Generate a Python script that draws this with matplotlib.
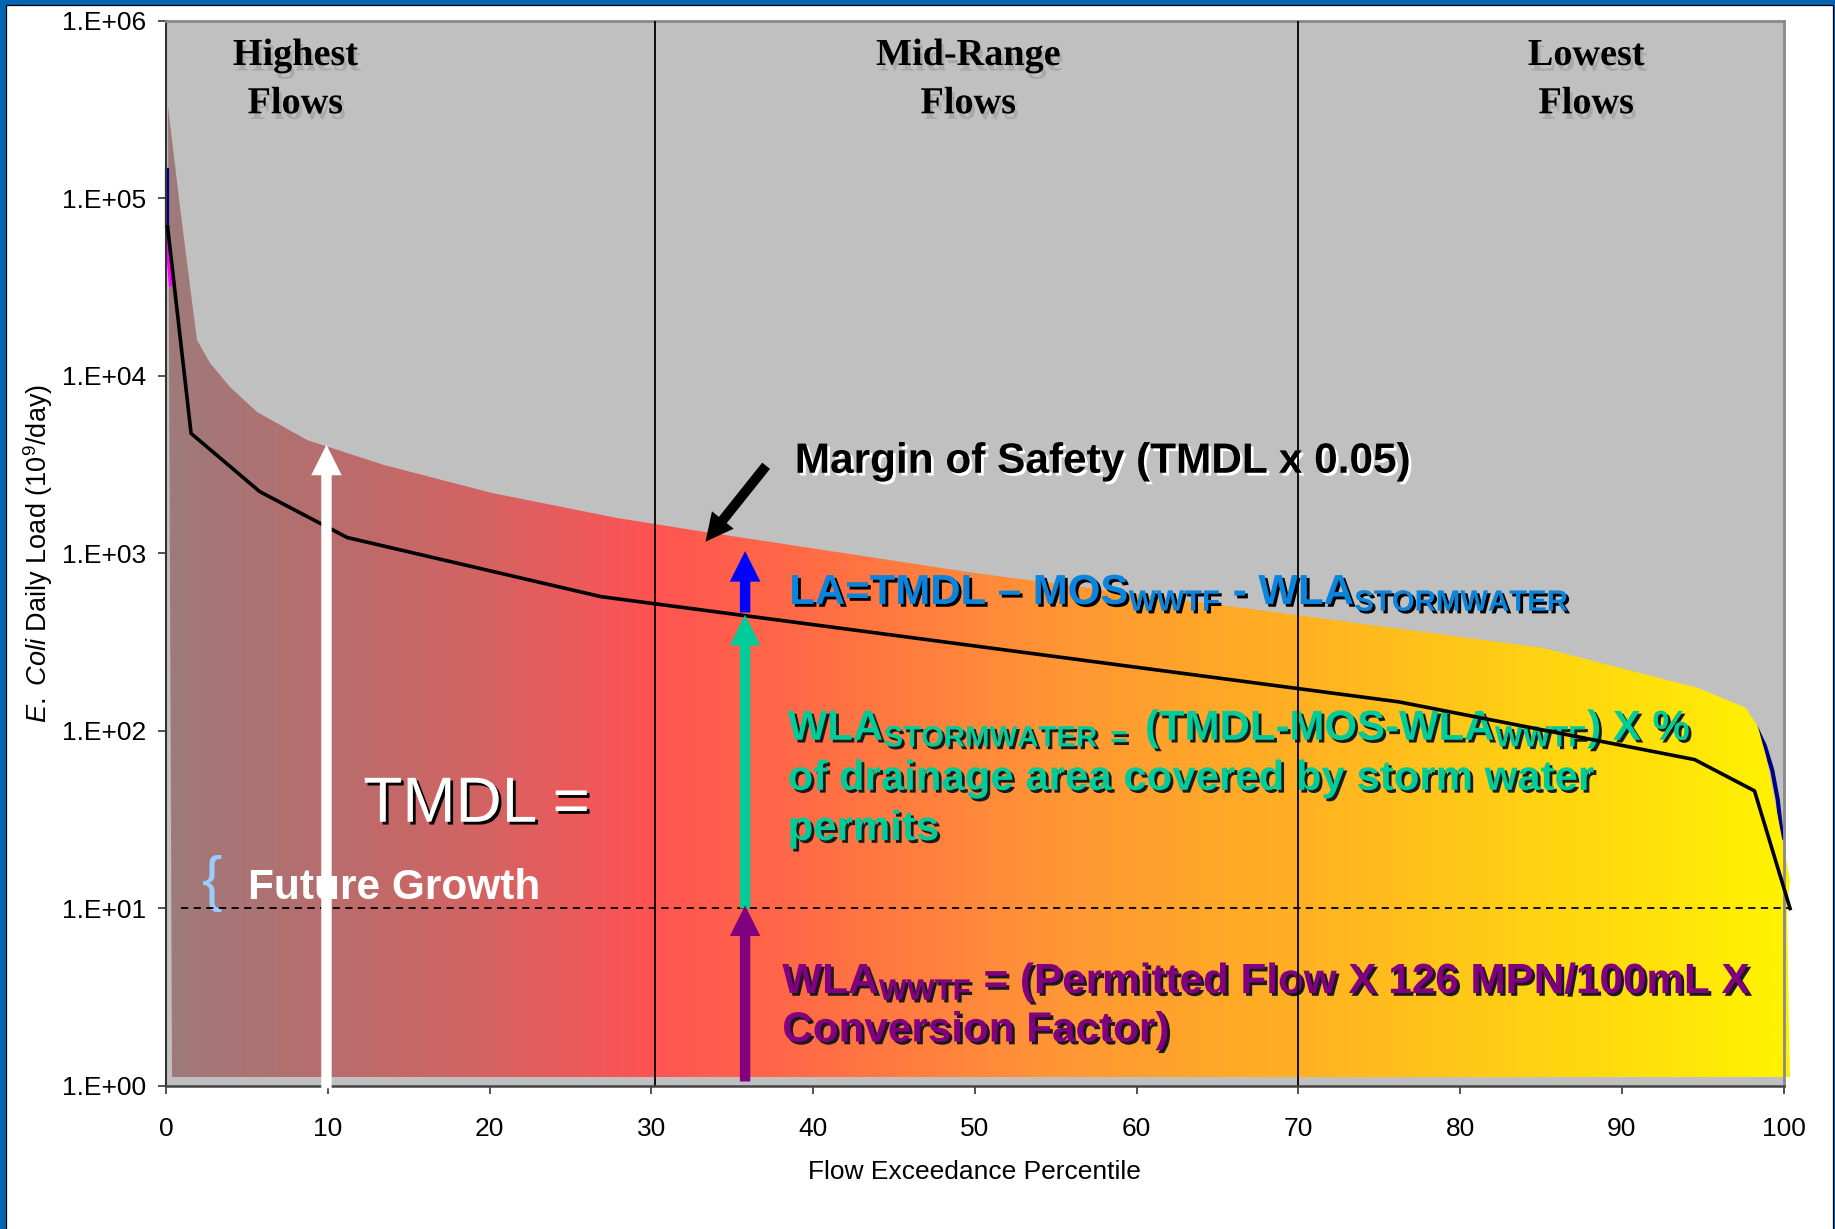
import numpy as np
import matplotlib
matplotlib.use('Agg')
import matplotlib.pyplot as plt
import matplotlib.patheffects as pe
from matplotlib.colors import LinearSegmentedColormap
from matplotlib.patches import Polygon, Rectangle
from matplotlib.ticker import NullLocator

plt.rcParams['font.family'] = ['Liberation Sans', 'DejaVu Sans']
plt.rcParams['mathtext.fontset'] = 'custom'
plt.rcParams['mathtext.rm'] = 'Liberation Sans'
plt.rcParams['mathtext.it'] = 'Liberation Sans:italic'
plt.rcParams['mathtext.bf'] = 'Liberation Sans:bold'
plt.rcParams['mathtext.default'] = 'regular'

# top of the coloured load-duration area (percentile, load)
env_pct = [0.1, 0.87, 1.48, 1.9, 2.72, 3.96, 5.6, 8.7, 13.5, 20.15, 27.9, 33.3,
           50, 67.6, 85.1, 94.7, 97.7, 98.4, 98.9, 99.88, 100.4, 100.2, 100.4, 0.35]
env_load = [3.3e5, 9.0e4, 3.2e4, 1.6e4, 1.18e4, 8700, 6300, 4350, 3160, 2180, 1580, 1320,
            776, 481, 292, 174, 134, 106, 72, 25, 14.5, 9.8, 1.13, 1.13]

# TMDL curve
tmdl_pct = [0.1, 1.55, 5.8, 11.2, 26.9, 76.2, 94.5, 98.2, 100.4]
tmdl_load = [6.9e4, 4750, 2230, 1230, 571, 146, 69, 46, 10]

# small extra series at the edges
navy_pct = [98.34, 98.85, 99.3, 99.64, 99.9]
navy_load = [103, 82, 60, 41, 25]
left_navy_pct = [0.05, 0.05]
left_navy_load = [1.45e5, 6.9e4]
left_mag_pct = [0.05, 0.3]
left_mag_load = [6.2e4, 3.3e4]

regime_bounds = [30.2, 70]
future_growth = 10

regime_x = [8.0, 49.6, 87.8]
regime_top = ['Highest', 'Mid-Range', 'Lowest']
regime_bottom = ['Flows', 'Flows', 'Flows']

xticks = list(range(0, 101, 10))
yticks = [1e0, 1e1, 1e2, 1e3, 1e4, 1e5, 1e6]
ytick_labels = ['1.E+00', '1.E+01', '1.E+02', '1.E+03', '1.E+04', '1.E+05', '1.E+06']

grad_pos = [0.0, 0.1, 0.2, 0.3, 0.4, 0.55, 0.7, 0.85, 1.0]
grad_cols = ['#9E7A7A', '#B86C6C', '#D56262', '#FF5252', '#FF6C45', '#FF9535',
             '#FFB022', '#FFD212', '#FFF200']


def shadow(col, dx=2, dy=-2):
    return [pe.withSimplePatchShadow(offset=(dx, dy), shadow_rgbFace=col, alpha=1.0)]


fig = plt.figure(figsize=(18.35, 12.29), dpi=100, facecolor='#0066B3')
fig.add_artist(Rectangle((5.5 / 1835, -0.01), (1833 - 5.5) / 1835, 1.01 - 5 / 1229,
                         transform=fig.transFigure, fc='white', ec='black', lw=0.9, zorder=-1))

ax = fig.add_axes([0.09046, 0.11636, 0.88153, 0.86656])
ax.set_facecolor('#C0C0C0')
ax.set_yscale('log')
ax.set_xlim(0, 100)
ax.set_ylim(1, 1e6)

# gradient area
load_cmap = LinearSegmentedColormap.from_list('load', list(zip(grad_pos, grad_cols)))
gx = np.linspace(-1, 101, 409)
gc = 0.5 * (gx[:-1] + gx[1:])
mesh = ax.pcolormesh(gx, [0.5, 2e6], gc[None, :], cmap=load_cmap, vmin=0, vmax=100,
                     shading='flat', antialiased=False, zorder=1)
clip = Polygon(np.column_stack([env_pct, env_load]), closed=True,
               transform=ax.transData, fc='none', ec='none')
mesh.set_clip_path(clip)
mesh.set_clip_box(None)

ax.plot(navy_pct, navy_load, color='#000080', lw=3, zorder=0.9)
ax.plot(left_navy_pct, left_navy_load, color='#000080', lw=3, zorder=2, clip_on=False)
ax.plot(left_mag_pct, left_mag_load, color='#FF00FF', lw=3, zorder=2)

# text blocks
for x, t1, t2 in zip(regime_x, regime_top, regime_bottom):
    ax.text(x, 5.65e5, t1, ha='center', va='baseline', family='Liberation Serif',
            fontweight='bold', fontsize=27.5, color='black', zorder=3,
            path_effects=shadow('#A9A9A9', 2, -4))
    ax.text(x, 3.02e5, t2, ha='center', va='baseline', family='Liberation Serif',
            fontweight='bold', fontsize=27.5, color='black', zorder=3,
            path_effects=shadow('#A9A9A9', 2, -4))

ax.text(38.87, 2850, 'Margin of Safety (TMDL x 0.05)', ha='left', va='baseline',
        fontsize=30.5, fontweight='bold', color='black', zorder=3,
        path_effects=shadow('white'))
ax.text(38.53, 519, 'LA=TMDL – MOS$_{WWTF}$ - WLA$_{STORMWATER}$', ha='left',
        va='baseline', fontsize=30.2, fontweight='bold', color='#0A84DC', zorder=3,
        path_effects=shadow('black'))

teal_lines = ['WLA$_{STORMWATER\\ =}$ (TMDL-MOS-WLA$_{WWTF}$) X %',
              'of drainage area covered by storm water', 'permits']
for txt, yb in zip(teal_lines, [89, 46.6, 24.3]):
    ax.text(38.43, yb, txt, ha='left', va='baseline', fontsize=30.2, fontweight='bold',
            color='#00CC99', zorder=3, path_effects=shadow('#1A1A1A'))

purple_lines = ['WLA$_{WWTF}$ = (Permitted Flow X 126 MPN/100mL X', 'Conversion Factor)']
for txt, yb in zip(purple_lines, [3.33, 1.78]):
    ax.text(38.1, yb, txt, ha='left', va='baseline', fontsize=30.4, fontweight='bold',
            color='#800080', zorder=3, path_effects=shadow('#1A1A1A'))

ax.text(12.2, 30.8, 'TMDL =', ha='left', va='baseline', fontsize=46, color='white',
        zorder=3, path_effects=shadow('black'))
ax.text(5.09, 11.3, 'Future Growth', ha='left', va='baseline', fontsize=30.5,
        fontweight='bold', color='white', zorder=3)
ax.text(2.86, 13.9, '{', ha='center', va='center', fontsize=44, color='#99CCFF', zorder=3)

# lines on top
for b in regime_bounds:
    ax.axvline(b, color='black', lw=1.3, zorder=4)
ax.plot([0.9, 100.4], [future_growth, future_growth], color='black', lw=1.3,
        ls=(0, (4, 3)), zorder=4, clip_on=False)
ax.plot(tmdl_pct, tmdl_load, color='black', lw=2.6, zorder=4, clip_on=False)


def arrow(x0, y0, x1, y1, col, ms=22, tw=0.34):
    ax.annotate('', xy=(x1, y1), xytext=(x0, y0), zorder=5, annotation_clip=False,
                arrowprops=dict(arrowstyle='simple,head_length=1.0,head_width=1.0,tail_width=%g' % tw,
                                mutation_scale=ms, fc=col, ec='none', lw=0,
                                shrinkA=0, shrinkB=0))


arrow(9.92, 0.97, 9.92, 4100, 'white')
arrow(37.1, 3120, 33.35, 1165, 'black', ms=20, tw=0.36)
arrow(35.8, 465, 35.8, 1032, '#0000FF')
arrow(35.8, 10, 35.8, 451, '#00CC99')
arrow(35.8, 1.06, 35.8, 10.4, '#800080')

# axes styling
for s in ['top', 'right']:
    ax.spines[s].set_color('#8A8A8A')
    ax.spines[s].set_linewidth(2)
ax.spines['left'].set_color('#333333')
ax.spines['bottom'].set_color('#444444')
ax.spines['left'].set_linewidth(1.5)
ax.spines['bottom'].set_linewidth(1.8)
ax.spines['bottom'].set_zorder(4.5)

ax.set_xticks(xticks)
ax.set_yticks(yticks)
ax.set_yticklabels(ytick_labels)
ax.yaxis.set_minor_locator(NullLocator())
ax.tick_params(axis='both', direction='out', length=6, width=1.2, labelsize=19,
               color='#333333')
ax.tick_params(axis='x', pad=16)
ax.tick_params(axis='y', pad=8)

ax.set_xlabel('Flow Exceedance Percentile', fontsize=19, va='center')
ax.xaxis.set_label_coords(0.5, -0.0803)
ax.set_ylabel('$\\mathit{E.\\ Coli}$ Daily Load (10$^{9}$/day)', fontsize=19.5, va='center')
ax.yaxis.set_label_coords(-0.0788, 0.5)

fig.savefig('out.png', dpi=100, facecolor=fig.get_facecolor())
